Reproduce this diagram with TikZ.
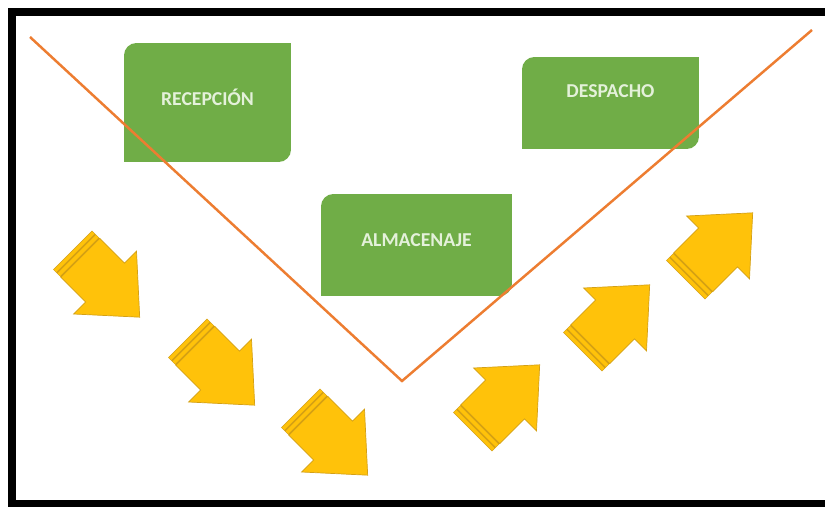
\documentclass[tikz,border=0pt]{standalone}
\usepackage{fontspec}
\newfontfamily\stagefont{Carlito}
\usetikzlibrary{positioning}

\definecolor{stagegreen}{RGB}{112,173,71}
\definecolor{stagetext}{RGB}{228,241,218}
\definecolor{vline}{RGB}{237,125,49}
\definecolor{arrowgold}{RGB}{255,194,10}
\definecolor{arrowedge}{RGB}{212,160,20}

\tikzset{
  stage/.style={fill=stagegreen, rounded corners=7pt, inner sep=0pt},
  stagelabel/.style={text=stagetext, font=\stagefont\bfseries\fontsize{11.2}{13}\selectfont},
  pics/goldarrow/.style={code={
    \fill[arrowedge] (0,-27.5) rectangle (12,27.5);
    \fill[arrowgold] (0.8,-27) rectangle (4.2,27);
    \fill[arrowgold] (6,-27) rectangle (9.6,27);
    \filldraw[fill=arrowgold, draw=arrowedge, line width=0.4pt]
      (11,-27.5) -- (46,-27.5) -- (46,-44.5) -- (95,0) -- (46,44.5) -- (46,27.5) -- (11,27.5) -- cycle;
  }}
}

\begin{document}
\begin{tikzpicture}[x=0.02cm, y=-0.02cm]

\fill[white] (0,0) rectangle (825,507);
\useasboundingbox (0,0) rectangle (825,507);

% frame
\fill[black] (8,8) rectangle (15.5,507);
\fill[black] (8,8) rectangle (825,16);
\fill[black] (8,500) rectangle (825,507);

% stages
\node[stage, minimum width=3.34cm, minimum height=2.38cm] (rec) at (207.5,102.5) {};
\fill[stagegreen] (rec.north east) rectangle ([xshift=-8pt,yshift=-8pt]rec.north east);
\fill[stagegreen] (rec.south west) rectangle ([xshift=8pt,yshift=8pt]rec.south west);
\node[stagelabel] (rectxt) at ([yshift=3pt]rec.center) {RECEPCIÓN};

\node[stage, minimum width=3.82cm, minimum height=2.04cm] (alm) at (416.5,245) {};
\fill[stagegreen] (alm.north east) rectangle ([xshift=-8pt,yshift=-8pt]alm.north east);
\fill[stagegreen] (alm.south west) rectangle ([xshift=8pt,yshift=8pt]alm.south west);
\node[stagelabel] (almtxt) at ([yshift=3pt]alm.center) {ALMACENAJE};

\node[stage, minimum width=3.54cm, minimum height=1.84cm] (des) at (610.5,103) {};
\fill[stagegreen] (des.north east) rectangle ([xshift=-8pt,yshift=-8pt]des.north east);
\fill[stagegreen] (des.south west) rectangle ([xshift=8pt,yshift=8pt]des.south west);
\node[stagelabel] (destxt) at ([yshift=7pt]des.center) {DESPACHO};

% the V
\coordinate (vleft) at (30,37);
\coordinate (vbottom) at (402,381);
\coordinate (vright) at (812,30);
\draw[vline, line width=1.4pt] (vleft) -- (vbottom) -- (vright);

% arrows
\foreach \x/\y in {72.5/250, 187.5/338, 300.5/408}
{
    \pic[rotate=-45] at (\x,\y) {goldarrow};
}

\foreach \x/\y in {472.5/432, 582.5/352, 685.5/280}
{
    \pic[rotate=45] at (\x,\y) {goldarrow};
}

\end{tikzpicture}
\end{document}
